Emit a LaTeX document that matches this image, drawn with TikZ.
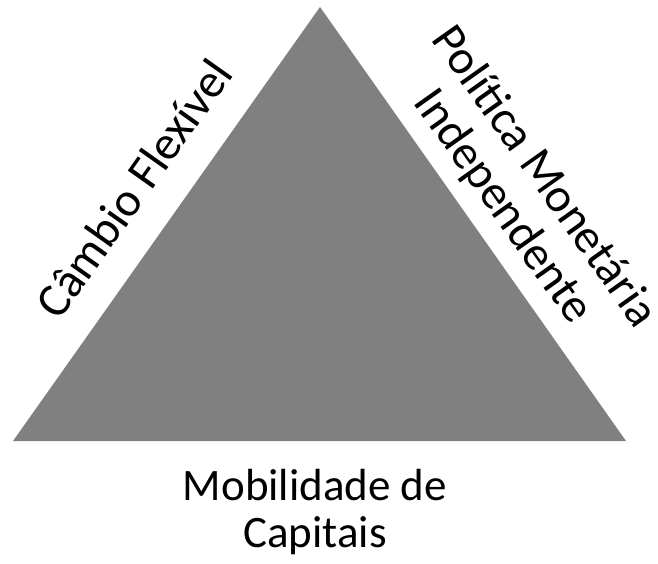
\documentclass[tikz,border=0pt]{standalone}
\usepackage{fontspec}
\setmainfont{Carlito}

\begin{document}
\begin{tikzpicture}[x=1pt,y=-1pt,
					thick,
					corner/.style={gray},
					base label/.style={inner sep=0pt,align=center,
					  font=\fontsize{45}{47}\selectfont},
					side label/.style={inner sep=0pt,align=center,
					  font=\fontsize{48}{51}\selectfont}]

  \useasboundingbox (0,0) rectangle (658,564);

  \coordinate (T) at (320,7);
  \coordinate (L) at (13,441);
  \coordinate (R) at (626,441);
  \fill[corner] (L) -- (T) -- (R) -- cycle;

  \node[side label,rotate=54.7,anchor=base] (cambio) at (147,198) {Câmbio Flexível};
  \node[side label,rotate=-54.7] (politica) at (523,192) {Política Monetária\\Independente};
  \node[base label] (mobilidade) at (315,512) {Mobilidade de\\Capitais};
\end{tikzpicture}
\end{document}
